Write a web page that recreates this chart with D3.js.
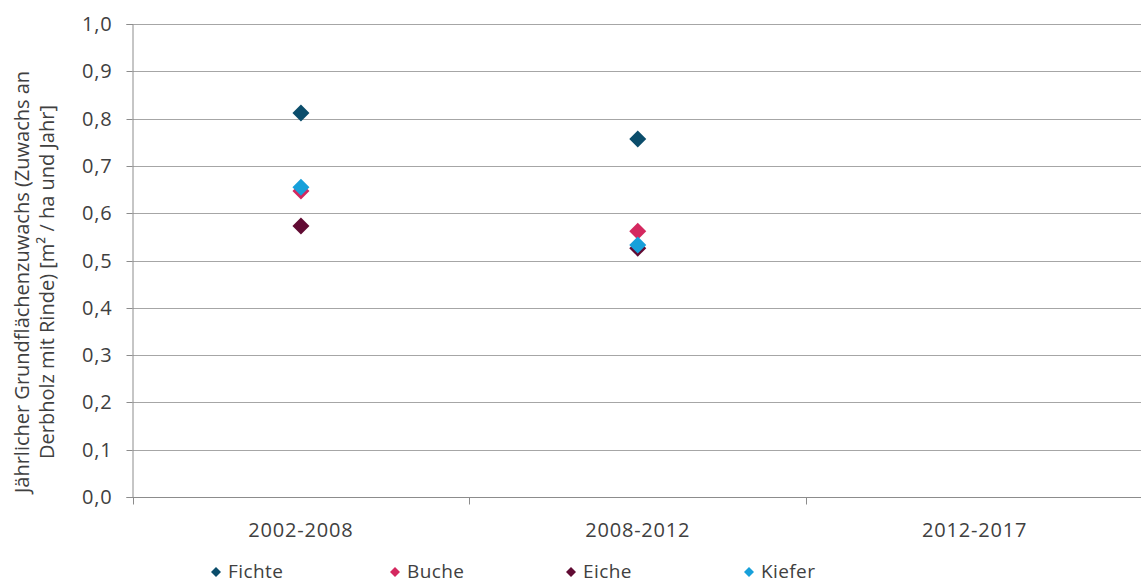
<!DOCTYPE html>
<html><head><meta charset="utf-8">
<script src="https://cdn.jsdelivr.net/npm/d3@7"></script>
<style>body{margin:0;background:#fff}svg{display:block}text{font-family:"Open Sans","Noto Sans",sans-serif;fill:#404040}</style>
</head><body><svg id="c" width="1141" height="584"></svg>
<script>
const categories = ["2002-2008", "2008-2012", "2012-2017"];
const speciesNames = ["Fichte", "Buche", "Eiche", "Kiefer"];
const fichte = [0.812, 0.757, null];
const buche = [0.647, 0.562, null];
const eiche = [0.573, 0.526, null];
const kiefer = [0.655, 0.533, null];
const yTicks = [0, 0.1, 0.2, 0.3, 0.4, 0.5, 0.6, 0.7, 0.8, 0.9, 1.0];
const colors = ["#0b4d6b", "#d4285f", "#610b33", "#17a0da"];
const series = [fichte, buche, eiche, kiefer];

const svg = d3.select("#c");
const m = {l: 132.5, r: 1143, t: 24, b: 497};
const x = d3.scaleBand().domain(categories).range([m.l, m.r]);
const y = d3.scaleLinear().domain([0, 1]).range([m.b, m.t]);
const fmt = v => d3.format(".1f")(v).replace(".", ",");

// gridlines
svg.append("g").selectAll("line").data(yTicks.slice(1)).join("line")
  .attr("x1", m.l).attr("x2", m.r).attr("y1", d => Math.round(y(d)) + 0.5).attr("y2", d => Math.round(y(d)) + 0.5)
  .attr("stroke", "#a6a6a6").attr("stroke-width", 1);

// y axis
const ya = svg.append("g").attr("transform", `translate(${m.l},0)`)
  .call(d3.axisLeft(y).tickValues(yTicks).tickFormat(fmt).tickSize(6).tickPadding(14));
ya.select(".domain").attr("stroke", "#8c8c8c");
ya.selectAll(".tick line").attr("stroke", "#8c8c8c");
ya.selectAll(".tick text").style("font-size", "20px").style("letter-spacing", "0.8px").attr("fill", "#404040").attr("dy", "0.34em");
ya.selectAll(".tick").attr("transform", d => `translate(0,${Math.round(y(d)) + 0.5})`);

// x axis
const xa = svg.append("g").attr("transform", `translate(0,${m.b + 0.5})`);
xa.append("line").attr("x1", m.l).attr("x2", m.r).attr("stroke", "#8c8c8c");
const bounds = categories.map(c => x(c)).concat([m.r]);
xa.selectAll(".bt").data(bounds).join("line").attr("class", "bt")
  .attr("x1", d => Math.round(d) + 0.5).attr("x2", d => Math.round(d) + 0.5).attr("y1", 0).attr("y2", 7)
  .attr("stroke", "#8c8c8c");
xa.selectAll("text").data(categories).join("text")
  .attr("x", d => x(d) + x.bandwidth() / 2).attr("y", 39)
  .attr("text-anchor", "middle").style("font-size", "20px").style("letter-spacing", "0.8px").text(d => d);

// y axis title
const yt = svg.append("text").attr("transform", "translate(29,282) rotate(-90)")
  .attr("text-anchor", "middle").style("font-size", "20px");
yt.append("tspan").attr("x", 0).attr("dy", 0).text("Jährlicher Grundflächenzuwachs (Zuwachs an");
yt.append("tspan").attr("x", 0).attr("dy", 25).text("Derbholz mit Rinde) [m² / ha und Jahr]");

const diamond = r => `M0,${-r}L${r},0L0,${r}L${-r},0Z`;

// points
series.forEach((s, i) => {
  svg.append("g").selectAll("path").data(s.map((v, j) => ({v, c: categories[j]})).filter(d => d.v != null))
    .join("path")
    .attr("d", diamond(8.5))
    .attr("transform", d => `translate(${x(d.c) + x.bandwidth() / 2},${y(d.v)})`)
    .attr("fill", colors[i]);
});

// legend
const legX = [216, 395, 571, 749];
const lg = svg.append("g");
speciesNames.forEach((n, i) => {
  lg.append("path").attr("d", diamond(5)).attr("transform", `translate(${legX[i]},${572})`).attr("fill", colors[i]);
  lg.append("text").attr("x", legX[i] + 12).attr("y", 578).style("font-size", "19px").style("letter-spacing", "0.4px").text(n);
});
</script></body></html>
